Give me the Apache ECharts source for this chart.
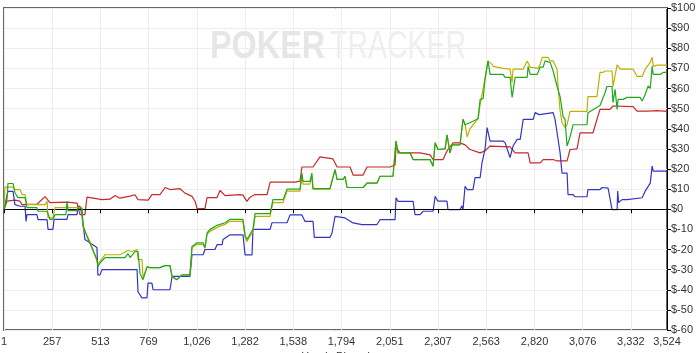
<!DOCTYPE html>
<html><head><meta charset="utf-8">
<script src="https://cdn.jsdelivr.net/npm/echarts@6/dist/echarts.min.js"></script>
<style>html,body{margin:0;padding:0;background:#fff}#c{width:700px;height:353px}</style>
</head><body><div id="c"></div>
<script>
const xTicks = [1,257,513,769,1026,1282,1538,1794,2051,2307,2563,2820,3076,3332,3524];
const yMin = -60, yMax = 100, yStep = 10;

const redLine = [[1,0],[17,4],[59,4.5],[86,4],[97,2.3],[176,2.5],[219,6.3],[245,3.3],[336,3.5],[389,3],[405,-2.7],[431,-2.7],[442,6],[522,4.8],[564,5],[591,6.8],[617,5.5],[671,6.5],[697,7.2],[713,4.8],[767,4.5],[787,7.3],[830,7.3],[857,10.8],[883,9.8],[936,10.2],[963,8],[1000,6.4],[1016,4],[1027,0.3],[1069,0.3],[1080,5.8],[1133,5.8],[1149,9.3],[1176,6.8],[1255,7.3],[1271,7],[1292,3.9],[1308,6],[1335,7.3],[1399,7.3],[1415,13.5],[1547,13.5],[1574,14],[1584,21],[1643,21],[1680,26],[1749,25],[1771,21],[1840,21],[1856,17],[1909,17],[1930,21],[2052,21],[2079,22],[2084,30.7],[2105,28],[2212,28],[2265,27],[2281,24.7],[2334,24.7],[2355,29],[2387,33],[2424,33],[2451,32],[2477,29.7],[2531,28],[2557,29],[2584,31.4],[2690,31],[2717,28],[2786,28],[2797,23],[2850,23],[2866,24.7],[2919,24.7],[2940,24],[2993,24],[3009,29.7],[3046,30],[3062,38],[3131,38],[3152,44.7],[3168,49.6],[3221,49.6],[3237,51.3],[3344,51],[3365,48.8],[3419,48.8],[3472,49],[3524,48.6]];

const blueLine = [[1,0],[22,8.9],[49,8.9],[59,2.3],[86,1.5],[113,1.5],[118,-6],[123,-2.7],[176,-2.7],[182,-5.2],[230,-5.2],[235,-10],[261,-10],[267,-5],[336,-5],[341,-2.7],[389,-2.7],[394,1.5],[405,1.5],[415,-2.7],[431,-15],[495,-19],[500,-32.6],[511,-32.6],[522,-30],[708,-30],[713,-41],[734,-44],[761,-44],[766,-36.7],[787,-36.7],[793,-40],[883,-40],[894,-33.4],[989,-33.4],[1000,-22.6],[1059,-22.6],[1069,-20],[1122,-20],[1133,-17.6],[1160,-17.6],[1165,-15],[1202,-12.7],[1271,-12.7],[1282,-22.7],[1319,-22.7],[1324,-10],[1415,-10],[1425,-6.7],[1505,-6.7],[1521,-2.8],[1584,-2.8],[1600,-6],[1643,-6],[1650,-14],[1733,-14],[1744,-11.8],[1760,-3.5],[1813,-4.3],[1856,-6.8],[1903,-7.6],[1983,-7.6],[1999,-5.2],[2079,-5.2],[2084,5.7],[2095,3.9],[2175,3.9],[2185,-2.7],[2212,-2.7],[2228,-1],[2281,-1],[2292,6.4],[2307,4],[2355,4],[2360,-0.2],[2424,-0.2],[2435,1.7],[2440,-0.2],[2451,11.4],[2462,9.8],[2493,9.8],[2504,15.7],[2531,15.7],[2541,23],[2557,29.7],[2568,40.6],[2584,33.9],[2653,33.9],[2664,33],[2690,25.7],[2706,31.4],[2728,34.7],[2744,34.7],[2760,44.7],[2813,44.7],[2823,48],[2845,47],[2919,48],[2929,44.7],[2940,38],[2956,28],[2966,18],[2993,18],[2998,7.3],[3025,7.3],[3035,6.2],[3099,6.2],[3104,9.8],[3168,9.8],[3179,10.8],[3211,10.5],[3221,9.8],[3232,-0.2],[3259,-0.2],[3262,9],[3267,3.3],[3285,4.8],[3312,4.8],[3317,5.7],[3392,5.7],[3408,9],[3435,13],[3445,21.4],[3451,18.9],[3524,18.9]];

const greenLine = [[1,0],[17,5],[22,12.8],[49,12.8],[59,8.2],[75,5.8],[113,5.8],[123,0.8],[176,0.8],[182,-1],[230,-1],[245,-5],[261,-5],[272,-2.7],[330,-2.7],[336,4],[341,-0.7],[389,-0.7],[394,0.5],[415,0.5],[421,-8],[442,-13.5],[458,-17],[495,-25],[500,-28.5],[511,-26.7],[538,-24],[644,-24],[660,-22],[671,-24],[697,-21],[713,-21],[724,-32],[740,-35],[761,-28.6],[777,-29],[830,-29],[857,-28],[883,-28],[894,-33.4],[920,-35],[947,-32.6],[989,-32.6],[1000,-18.5],[1027,-16.7],[1059,-16.7],[1069,-19],[1080,-11.8],[1096,-10],[1133,-8],[1176,-6.7],[1202,-5],[1271,-5],[1282,-13],[1292,-15],[1324,-10],[1335,-2.2],[1415,-2.2],[1430,4.8],[1484,4.8],[1505,10],[1574,10],[1584,18],[1590,13.9],[1627,13.9],[1637,18],[1643,10.2],[1733,10.2],[1760,19.7],[1771,14.8],[1803,14.8],[1813,16.4],[1824,10.8],[1909,10.8],[1930,13],[1983,13],[1999,16.4],[2068,16.4],[2084,33.9],[2095,28],[2159,28],[2175,24.7],[2265,24.7],[2281,21.4],[2292,33],[2307,29.7],[2345,30],[2355,37],[2371,28],[2382,32],[2424,32],[2440,44.7],[2451,42],[2477,43],[2520,45],[2531,54.6],[2547,55],[2557,64.6],[2573,73.7],[2584,67],[2653,67],[2664,65.5],[2690,65.5],[2701,55.6],[2717,65.5],[2781,65.5],[2786,71],[2797,67],[2834,67],[2850,70.6],[2866,70.6],[2876,73.7],[2903,73],[2919,68.7],[2940,61],[2956,56],[2972,46],[2982,44.7],[2993,31.4],[3009,36],[3025,42],[3099,42],[3104,48],[3168,51.6],[3195,58],[3205,61],[3232,61],[3237,53],[3248,59.6],[3259,49.6],[3264,54.6],[3291,54.6],[3312,55.6],[3381,55.6],[3392,53.8],[3408,57],[3424,61.3],[3435,60],[3445,71],[3451,67],[3488,67],[3504,68],[3524,68]];

const yellowLine = [[1,0],[6,11],[49,11],[59,9.8],[86,9.8],[97,7.3],[113,7.3],[123,2.3],[219,2.3],[230,4],[235,-4.3],[261,-4.3],[272,0.8],[415,0.8],[421,-9],[442,-13],[458,-16],[500,-27],[511,-26],[538,-22.6],[617,-22.6],[660,-20.5],[681,-21],[708,-20],[713,-25],[734,-25],[740,-34],[761,-28.6],[777,-29],[830,-29],[857,-28],[883,-28],[894,-33.4],[920,-35],[947,-32.6],[989,-32.6],[1000,-19],[1027,-17.5],[1059,-17.5],[1069,-19.5],[1080,-12.5],[1096,-11],[1133,-9],[1176,-7.5],[1202,-6],[1271,-6],[1282,-14],[1292,-16],[1324,-11],[1335,-3.5],[1415,-3.5],[1430,3.3],[1484,3.3],[1505,9],[1574,9],[1584,16.5],[1590,12.5],[1627,12.5],[1637,16.5],[1643,10],[1733,10],[1760,19.7],[1771,14.8],[1803,14.8],[1813,16.4],[1824,10.8],[1909,10.8],[1930,13],[1983,13],[1999,16.4],[2068,16.4],[2084,33.9],[2095,28],[2159,28],[2175,24.7],[2265,24.7],[2281,21.4],[2292,33],[2307,29.7],[2345,30],[2355,37],[2371,28],[2382,32],[2424,32],[2440,44.7],[2451,42],[2462,36],[2477,40],[2520,45],[2531,52],[2547,60],[2557,65],[2573,73.6],[2595,72],[2600,71],[2653,70],[2690,69.6],[2701,63],[2706,69.6],[2760,69.6],[2781,73.7],[2797,70.6],[2839,70],[2850,72],[2861,75.5],[2892,75.5],[2903,73.7],[2919,73.7],[2940,69.6],[2945,61],[2956,49],[2966,43],[2982,40.6],[2993,42],[3009,48.6],[3099,48.6],[3104,56],[3152,56],[3168,68],[3184,68],[3195,68.7],[3232,68.7],[3237,61],[3259,71.7],[3275,69.6],[3344,69.6],[3365,66],[3392,66],[3408,69.6],[3435,73],[3445,75.5],[3451,71],[3472,71.6],[3524,71.6]];

const seriesDefs = [
  {name:'Red', data: redLine, color:'#c62a2a'},
  {name:'Blue', data: blueLine, color:'#3434c4'},
  {name:'Yellow', data: yellowLine, color:'#bfb000'},
  {name:'Green', data: greenLine, color:'#20a820'}
];

const chart = echarts.init(document.getElementById('c'), null, {renderer:'canvas'});
const fmtNum = v => String(Math.round(v)).replace(/\B(?=(\d{3})+(?!\d))/g, ',');
const font = 'Liberation Sans, Arial, sans-serif';

chart.setOption({
  animation:false,
  backgroundColor:'#fff',
  grid:{left:4, right:33, top:8, bottom:23, show:true, borderColor:'#666', borderWidth:2, containLabel:false, outerBoundsMode:'none'},
  graphic:[
    {type:'text', x:210, y:28, scaleX:0.83, z:1, silent:true,
     style:{text:'POKER', fontFamily:font, fontWeight:'bold', fontSize:39, fill:'#e6e6e6', textVerticalAlign:'top'}},
    {type:'text', x:330, y:28, scaleX:0.73, z:1, silent:true,
     style:{text:'TRACKER', fontFamily:font, fontWeight:'normal', fontSize:39, fill:'#efefef', textVerticalAlign:'top'}}
  ],
  xAxis:{
    type:'value', min:1, max:3524,
    name:'Hands Played', nameLocation:'middle', nameGap:20,
    nameTextStyle:{fontFamily:font, fontSize:11, color:'#333'},
    axisLine:{show:true, lineStyle:{color:'#000', width:1}},
    axisTick:{show:true, length:4, lineStyle:{color:'#000'}, customValues:xTicks},
    axisLabel:{customValues:xTicks, formatter:fmtNum, fontFamily:font, fontSize:11, color:'#333', margin:6},
    splitLine:{show:true, lineStyle:{color:'#ededed', width:1}}
  },
  yAxis:{
    type:'value', position:'right', min:yMin, max:yMax, interval:yStep,
    axisLine:{show:true, onZero:false, lineStyle:{color:'#000', width:1}},
    axisTick:{show:true, length:4, lineStyle:{color:'#000'}},
    axisLabel:{formatter:v => '$' + v, fontFamily:font, fontSize:11, color:'#333', margin:4},
    splitLine:{show:true, lineStyle:{color:'#ededed', width:1}}
  },
  series: seriesDefs.map((s, i) => ({
    name:s.name, type:'line', data:s.data, showSymbol:false, symbol:'none',
    lineStyle:{color:s.color, width:1.2}, itemStyle:{color:s.color}, z:3+i,
    markLine: i === 0 ? {silent:true, symbol:'none', label:{show:false},
      lineStyle:{color:'#000', type:'solid', width:1}, data:[{yAxis:0}]} : undefined
  }))
});
</script></body></html>
